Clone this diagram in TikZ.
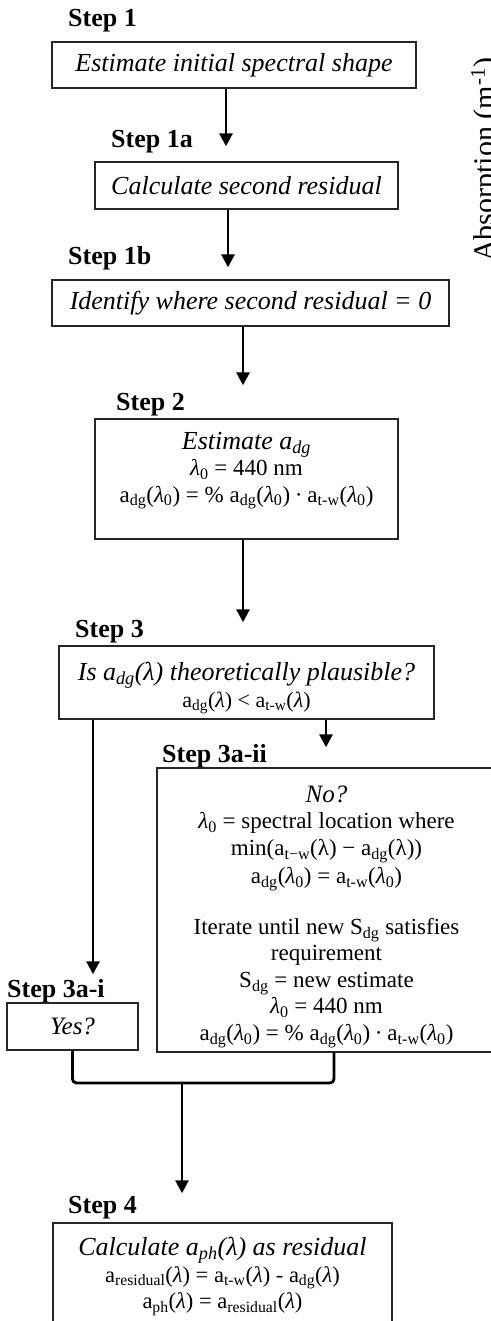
\documentclass[tikz,border=0pt]{standalone}
\usepackage{fontspec}
\setmainfont{Liberation Serif}
\usetikzlibrary{arrows.meta}
\newcommand\sbs[1]{\textsubscript{#1}}
\newcommand\lam{\textit{λ}}
\newcommand\up[1]{\rule{0pt}{#1}}
\newcommand\dn[1]{\rule[-#1]{0pt}{#1}}
\newcommand\fsA{\fontsize{26}{30}\selectfont}
\newcommand\fsB{\fontsize{23}{26.5}\selectfont}
\newcommand\fsC{\fontsize{22}{25}\selectfont}
\tikzset{
  box/.style={draw=black!85, line width=1.4pt, inner sep=0pt, align=center, rectangle, font=\fsB},
  steplabel/.style={font=\fontsize{26}{30}\selectfont\bfseries, anchor=base west, inner sep=0pt},
  arr/.style={line width=2.8pt, -{Triangle[width=13pt,length=13pt]}},
  link/.style={line width=2.8pt, rounded corners=4pt},
}
\begin{document}
\begin{tikzpicture}[x=1pt,y=-1pt]
\useasboundingbox (0,0) rectangle (490,1321);

% step labels
\node[steplabel] (l1)   at (68,27)   {Step 1};
\node[steplabel] (l1a)  at (111,148) {Step 1a};
\node[steplabel] (l1b)  at (68,265)  {Step 1b};
\node[steplabel] (l2)   at (116,410) {Step 2};
\node[steplabel] (l3)   at (75,637)  {Step 3};
\node[steplabel] (l3ii) at (162,762) {Step 3a-ii};
\node[steplabel] (l3i)  at (7,997)   {Step 3a-i};
\node[steplabel] (l4)   at (68,1213) {Step 4};

% boxes
\node[box, minimum width=364pt, minimum height=46pt] (s1) at (234,65)
  {\fsA\itshape Estimate initial spectral shape};
\node[box, minimum width=303pt, minimum height=47pt] (s1a) at (246.5,185.5)
  {\fsA\itshape Calculate second residual};
\node[box, minimum width=397pt, minimum height=46pt] (s1b) at (250.5,303)
  {\fsA\itshape Identify where second residual = 0};
\node[box, minimum width=303pt, minimum height=120pt] (s2) at (246.5,479)
  {{\fsA\itshape Estimate a\sbs{dg}}\\
   \lam\sbs{0} = 440 nm\\
   a\sbs{dg}(\lam\sbs{0}) = \% a\sbs{dg}(\lam\sbs{0}) ∙ a\sbs{t-w}(\lam\sbs{0})\dn{24pt}};
\node[box, minimum width=375pt, minimum height=73pt] (s3) at (246.5,682.5)
  {{\fsA\itshape\up{30pt}Is a\sbs{dg}(λ) theoretically plausible?}\\
   {\fsC a\sbs{dg}(\lam) < a\sbs{t-w}(\lam)}};
\node[box, minimum width=339pt, minimum height=284pt] (s3ii) at (326.5,910)
  {{\fontsize{25}{29}\selectfont\itshape\up{30pt}No?}\\
   \lam\sbs{0} = spectral location where\\
   min(a\sbs{t−w}(λ) − a\sbs{dg}(λ))\\[2pt]
   a\sbs{dg}(\lam\sbs{0}) = a\sbs{t-w}(\lam\sbs{0})\\[24pt]
   Iterate until new S\sbs{dg} satisfies\\
   requirement\\
   S\sbs{dg} = new estimate\\
   \lam\sbs{0} = 440 nm\\
   a\sbs{dg}(\lam\sbs{0}) = \% a\sbs{dg}(\lam\sbs{0}) ∙ a\sbs{t-w}(\lam\sbs{0})};
\node[box, minimum width=131pt, minimum height=47pt] (s3i) at (72.5,1026.5)
  {\fontsize{25}{29}\selectfont\itshape Yes?};
\node[box, minimum width=339pt, minimum height=107pt] (s4) at (222.5,1276.5)
  {{\fsA\itshape Calculate a\sbs{ph}(λ) as residual}\\
   {\fontsize{22.5}{25}\selectfont a\sbs{residual}(\lam) = a\sbs{t-w}(\lam) - a\sbs{dg}(\lam)}\\
   {\fontsize{22.5}{25}\selectfont a\sbs{ph}(\lam) = a\sbs{residual}(\lam)}};

% cropped axis label at the right edge
\node[rotate=90, anchor=base west, inner sep=0pt, font=\fontsize{30}{34}\selectfont] (ax) at (494,262)
  {Absorption (m\textsuperscript{-1})};

% connectors
\draw[arr, shorten >=15pt] ([xshift=-8pt]s1.south) -- ([xshift=-8pt]s1.south |- s1a.north);
\draw[arr, shorten >=12pt] ([xshift=-18.5pt]s1a.south) -- ([xshift=-18.5pt]s1a.south |- s1b.north);
\draw[arr, shorten >=33pt] ([xshift=-7.5pt]s1b.south) -- ([xshift=-7.5pt]s1b.south |- s2.north);
\draw[arr, shorten >=23pt] ([xshift=-3.5pt]s2.south) -- ([xshift=-3.5pt]s2.south |- s3.north);
\draw[arr, shorten >=28pt] ([xshift=-153.5pt]s3.south) -- ([xshift=-153.5pt]s3.south |- s3i.north);
\draw[arr, shorten >=20pt] ([xshift=79.5pt]s3.south) -- ([xshift=79.5pt]s3.south |- s3ii.north);
\coordinate (j) at (182,1083);
\draw[link] (s3i.south) |- (j) -| ([xshift=7.5pt]s3ii.south);
\draw[arr, shorten >=29pt] (j) -- (j |- s4.north);
\end{tikzpicture}
\end{document}
